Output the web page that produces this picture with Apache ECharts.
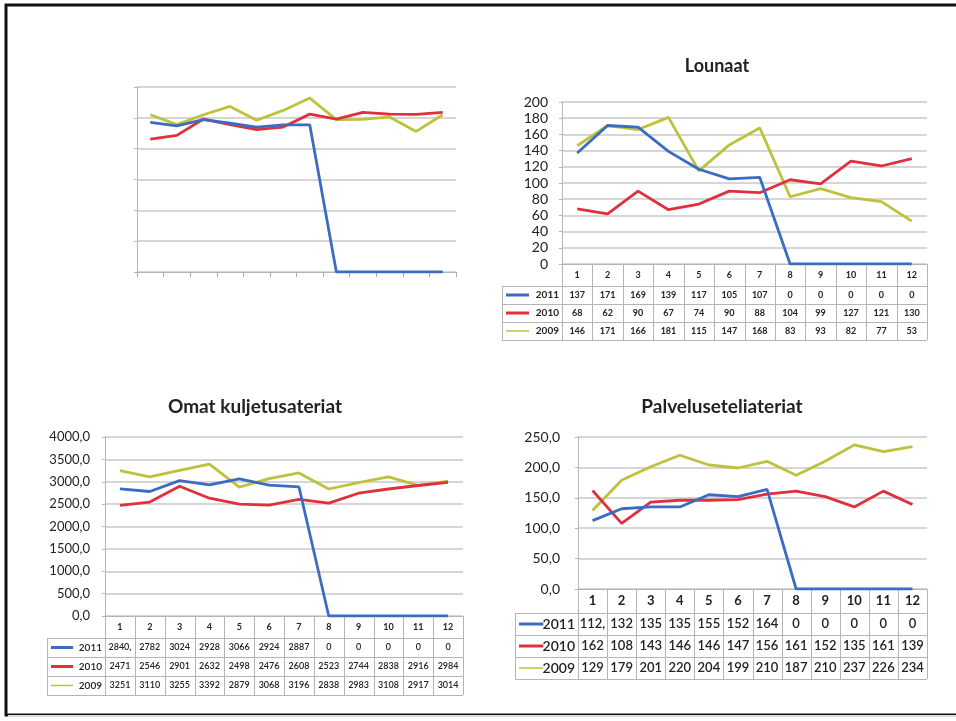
<!DOCTYPE html>
<html>
<head>
<meta charset="utf-8">
<title>Ateriat 2009-2011</title>
<script src="https://cdn.jsdelivr.net/npm/echarts@6/dist/echarts.min.js"></script>
<style>
  html, body { margin: 0; padding: 0; background: #fff; }
  #main { width: 956px; height: 721px; }
</style>
</head>
<body>
<div id="main"></div>
<script>
// kuukaudet ja vuodet
const months = ['1', '2', '3', '4', '5', '6', '7', '8', '9', '10', '11', '12'];
const years = ['2011', '2010', '2009'];

// ylävasen kaavio (akselin arvot eivät näy kuvassa, luettu ruudukosta)
const yhteensa2011 = [2425, 2370, 2470, 2415, 2350, 2385, 2385, 0, 0, 0, 0, 0];
const yhteensa2010 = [2155, 2215, 2480, 2390, 2310, 2350, 2560, 2480, 2590, 2560, 2555, 2590];
const yhteensa2009 = [2550, 2390, 2550, 2685, 2460, 2620, 2820, 2470, 2475, 2515, 2280, 2550];

// Lounaat
const lounaat2011 = [137, 171, 169, 139, 117, 105, 107, 0, 0, 0, 0, 0];
const lounaat2010 = [68, 62, 90, 67, 74, 90, 88, 104, 99, 127, 121, 130];
const lounaat2009 = [146, 171, 166, 181, 115, 147, 168, 83, 93, 82, 77, 53];

// Omat kuljetusateriat
const omat2011 = [2840.4, 2782, 3024, 2928, 3066, 2924, 2887, 0, 0, 0, 0, 0];
const omat2010 = [2471, 2546, 2901, 2632, 2498, 2476, 2608, 2523, 2744, 2838, 2916, 2984];
const omat2009 = [3251, 3110, 3255, 3392, 2879, 3068, 3196, 2838, 2983, 3108, 2917, 3014];

// Palveluseteliateriat
const palvelu2011 = [112.4, 132, 135, 135, 155, 152, 164, 0, 0, 0, 0, 0];
const palvelu2010 = [162, 108, 143, 146, 146, 147, 156, 161, 152, 135, 161, 139];
const palvelu2009 = [129, 179, 201, 220, 204, 199, 210, 187, 210, 237, 226, 234];

const colors = ['#3b6cc2', '#e0303e', '#bcc33b'];
const fontFamily = 'Lato, "Open Sans", sans-serif';
const gridColor = '#c9c9c9';

// kaavioalueet
const grids = [
  { left: 137, top: 87, width: 319, height: 185 },
  { left: 562, top: 102, width: 365, height: 162 },
  { left: 105, top: 437, width: 358, height: 179 },
  { left: 578, top: 437, width: 349, height: 152 }
];

const yAxes = [
  { max: 3000, interval: 500, show: false },
  { max: 200, interval: 20, fmt: (v) => String(v), size: 14, margin: 14 },
  { max: 4000, interval: 500, fmt: (v) => v.toFixed(1).replace('.', ','), size: 13, margin: 15 },
  { max: 250, interval: 50, fmt: (v) => v.toFixed(1).replace('.', ','), size: 14, margin: 18 }
];

const seriesData = [
  [yhteensa2011, yhteensa2010, yhteensa2009],
  [lounaat2011, lounaat2010, lounaat2009],
  [omat2011, omat2010, omat2009],
  [palvelu2011, palvelu2010, palvelu2009]
];

// taulukot kaavioiden alla
const tables = [
  null,
  { grid: 1, tableLeft: 502, headH: 22, rowH: 18, fontSize: 9, weight: 'bold', data: seriesData[1] },
  { grid: 2, tableLeft: 47, headH: 22, rowH: 19, fontSize: 9, weight: '600', data: seriesData[2] },
  { grid: 3, tableLeft: 515, headH: 24, rowH: 22, fontSize: 13, weight: '600', data: seriesData[3] }
];

const cellText = (v) => (Number.isInteger(v) ? String(v) : Math.floor(v) + ',');

const buildTable = (t) => {
  const g = grids[t.grid];
  const els = [];
  const lineStyle = { stroke: '#b5b5b5', lineWidth: 1 };
  const colW = g.width / months.length;
  const top = g.top + g.height;
  const bottom = top + t.headH + t.rowH * years.length;
  const right = g.left + g.width;

  // otsikkorivi
  months.forEach((m, i) => {
    els.push({
      type: 'text',
      style: {
        text: m, x: g.left + colW * (i + 0.5), y: top + t.headH / 2,
        textAlign: 'center', textVerticalAlign: 'middle',
        font: 'bold ' + t.fontSize + 'px ' + fontFamily, fill: '#222'
      }
    });
  });
  // pystyviivat
  for (let i = 0; i <= months.length; i++) {
    const x = Math.round(g.left + colW * i) + 0.5;
    els.push({ type: 'line', shape: { x1: x, y1: top, x2: x, y2: bottom }, style: lineStyle });
  }
  els.push({ type: 'line', shape: { x1: t.tableLeft + 0.5, y1: top + t.headH, x2: t.tableLeft + 0.5, y2: bottom }, style: lineStyle });
  // vaakaviivat
  els.push({ type: 'line', shape: { x1: g.left, y1: top + 0.5, x2: right, y2: top + 0.5 }, style: lineStyle });
  for (let r = 0; r <= years.length; r++) {
    const y = Math.round(top + t.headH + t.rowH * r) + 0.5;
    els.push({ type: 'line', shape: { x1: t.tableLeft, y1: y, x2: right, y2: y }, style: lineStyle });
  }
  // rivit
  years.forEach((yr, r) => {
    const cy = top + t.headH + t.rowH * (r + 0.5);
    els.push({
      type: 'line',
      shape: { x1: t.tableLeft + 4, y1: cy, x2: t.tableLeft + (g.left - t.tableLeft) * 0.45, y2: cy },
      style: { stroke: colors[r], lineWidth: r === 2 ? 1.5 : 3 }
    });
    els.push({
      type: 'text',
      style: {
        text: yr, x: g.left - 3, y: cy, textAlign: 'right', textVerticalAlign: 'middle',
        font: t.weight + ' ' + (t.fontSize + 1) + 'px ' + fontFamily, fill: '#222'
      }
    });
    t.data[r].forEach((v, i) => {
      els.push({
        type: 'text',
        style: {
          text: cellText(v), x: g.left + colW * (i + 0.5), y: cy,
          textAlign: 'center', textVerticalAlign: 'middle',
          font: t.weight + ' ' + t.fontSize + 'px ' + fontFamily, fill: '#222'
        }
      });
    });
  });
  return els;
};

const chart = echarts.init(document.getElementById('main'), null, { renderer: 'canvas' });

const graphicEls = [
  {
    type: 'rect',
    shape: { x: 6, y: 5, width: 960, height: 710 },
    style: { fill: 'none', stroke: '#111', lineWidth: 3 }
  },
  {
    type: 'line',
    shape: { x1: 8, y1: 716, x2: 956, y2: 716 },
    style: { stroke: '#ddd', lineWidth: 2 }
  }
];
tables.forEach((t) => {
  if (t) graphicEls.push(...buildTable(t));
});

const options = {
  backgroundColor: '#fff',
  animation: false,
  title: [
    { text: 'Lounaat', left: 712, top: 52, textAlign: 'center',
      textStyle: { fontFamily, fontSize: 18, fontWeight: 'bold', color: '#222' } },
    { text: 'Omat kuljetusateriat', left: 250, top: 392, textAlign: 'center',
      textStyle: { fontFamily, fontSize: 19, fontWeight: 'bold', color: '#222' } },
    { text: 'Palveluseteliateriat', left: 717, top: 392, textAlign: 'center',
      textStyle: { fontFamily, fontSize: 19, fontWeight: 'bold', color: '#222' } }
  ],
  grid: grids.map((g) => ({ ...g, containLabel: false })),
  xAxis: grids.map((g, i) => ({
    type: 'category',
    gridIndex: i,
    data: months,
    boundaryGap: true,
    axisLabel: { show: false },
    axisTick: { show: i === 0, lineStyle: { color: '#aaa' } },
    axisLine: { show: true, lineStyle: { color: '#b5b5b5', width: 1 } }
  })),
  yAxis: yAxes.map((a, i) => ({
    type: 'value',
    gridIndex: i,
    min: 0,
    max: a.max,
    interval: a.interval,
    axisLine: { show: true, lineStyle: { color: '#b5b5b5' } },
    axisTick: { show: true, length: 3, lineStyle: { color: '#b5b5b5' } },
    splitLine: { show: true, lineStyle: { color: gridColor, width: 1.5 } },
    axisLabel: a.show === false ? { show: false } : {
      show: true, formatter: a.fmt, fontSize: a.size, margin: a.margin,
      color: '#222', fontFamily
    }
  })),
  series: seriesData.flatMap((rows, gi) => rows.map((d, r) => ({
    name: years[r],
    type: 'line',
    xAxisIndex: gi,
    yAxisIndex: gi,
    data: d,
    symbol: 'none',
    lineStyle: { color: colors[r], width: 2.8 },
    itemStyle: { color: colors[r] },
    z: 3 - r
  }))),
  graphic: { elements: graphicEls }
};

chart.setOption(options);
</script>
</body>
</html>
